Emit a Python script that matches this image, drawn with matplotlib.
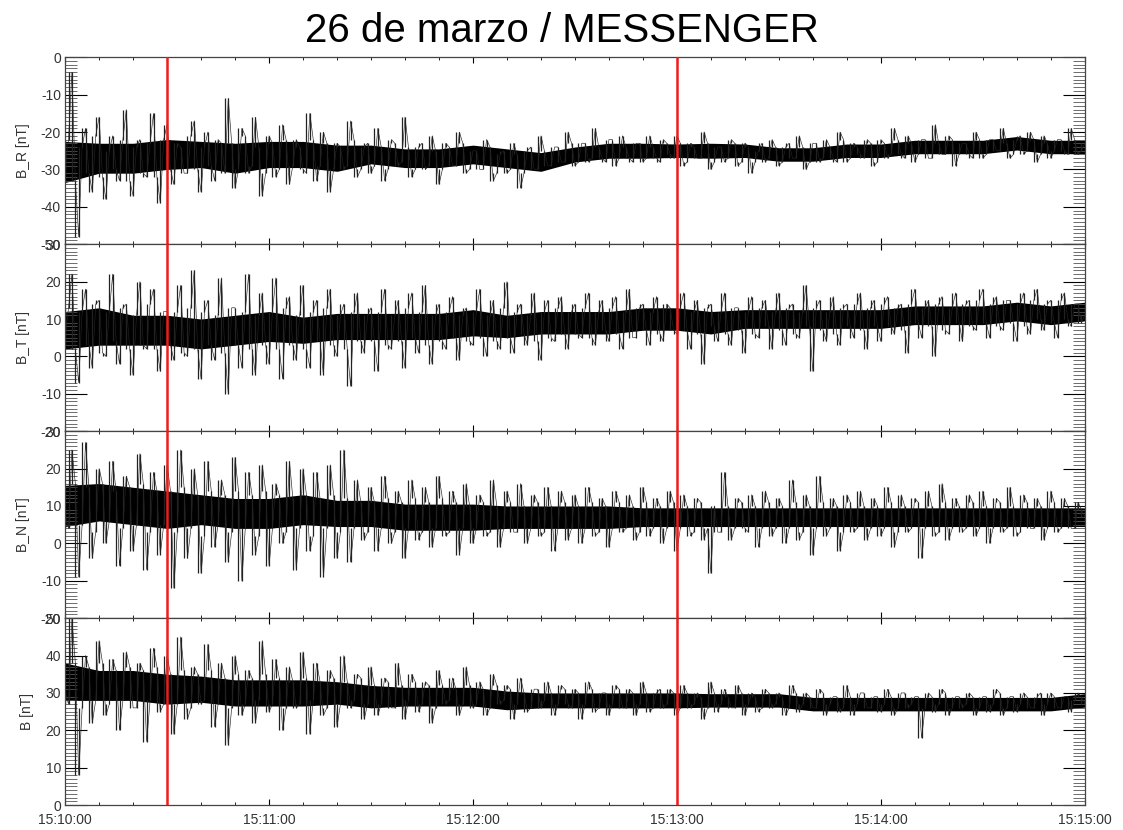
import matplotlib
matplotlib.use("Agg")
import matplotlib.pyplot as plt
import numpy as np
from matplotlib.ticker import MultipleLocator

plt.rcParams["font.family"] = ["Liberation Sans", "DejaVu Sans"]
plt.rcParams["axes.unicode_minus"] = False

# seconds after 15:10:00
t_even = np.arange(0, 301, 2)
t_odd = np.arange(1, 300, 2)
t_band = np.arange(0, 301, 10)

tick_secs = [0, 60, 120, 180, 240, 300]
tick_labels = ["15:10:00", "15:11:00", "15:12:00", "15:13:00", "15:14:00", "15:15:00"]
marks = [30, 180]  # red lines at 15:10:30 and 15:13:00

# B_R: samples at even seconds (spikes) and odd seconds (core)
br = [-30, -4, -48, -19, -36, -16, -38, -21, -33, -14, -37, -22, -32, -15, -39,
      -18, -34, -24, -31, -17, -36, -20, -33, -23, -11, -35, -19, -31, -16, -37,
      -21, -32, -18, -34, -22, -30, -15, -33, -20, -36, -23, -30, -17, -32, -24,
      -31, -19, -33, -22, -29, -16, -32, -24, -30, -21, -34, -23, -29, -20, -31,
      -25, -30, -22, -33, -26, -31, -23, -35, -25, -30, -21, -29, -24, -28, -20,
      -29, -23, -28, -19, -27, -22, -29, -21, -27, -23, -28, -21, -27, -22, -26,
      -21, -29, -23, -27, -20, -30, -24, -28, -22, -29, -23, -31, -25, -28, -22,
      -29, -24, -27, -21, -30, -23, -28, -22, -27, -20, -28, -23, -26, -22, -29,
      -22, -27, -19, -26, -21, -28, -22, -27, -18, -26, -21, -29, -23, -26, -20,
      -27, -22, -25, -19, -27, -22, -26, -20, -28, -21, -27, -22, -25, -19, -26, -23]
br_core = [-22, -33, -24, -31, -21, -32, -25, -30, -22, -33, -24, -31, -23, -32, -22,
           -30, -23, -31, -21, -30, -24, -29, -22, -31, -23, -30, -21, -29, -24, -31,
           -23, -30, -22, -29, -24, -31, -22, -29, -23, -30, -24, -29, -22, -30, -23,
           -29, -24, -30, -23, -28, -24, -30, -23, -29, -25, -30, -24, -29, -23, -30,
           -25, -30, -24, -31, -25, -30, -26, -31, -24, -30, -25, -29, -24, -28, -23,
           -28, -23, -27, -24, -28, -22, -27, -24, -28, -23, -27, -24, -28, -23, -27,
           -23, -28, -24, -27, -23, -28, -24, -27, -23, -28, -24, -28, -23, -27, -24,
           -28, -23, -27, -24, -28, -23, -27, -24, -28, -22, -27, -24, -27, -23, -28,
           -23, -26, -22, -27, -23, -26, -22, -27, -23, -26, -22, -26, -23, -27, -22,
           -26, -22, -25, -23, -26, -21, -25, -22, -26, -23, -25, -22, -26, -22, -25]
br_mid = [-28, -27, -27, -26, -26, -27, -26, -26, -27, -26, -27, -27, -26, -27, -28, -26,
          -25, -25, -25, -25, -25, -26, -26, -25, -25, -24, -24, -24, -23, -24, -24]
br_half = [5.5, 4, 4, 4, 3.5, 4, 3.5, 3.5, 3.5, 2.5, 2.5, 2.5, 2.5, 2.5, 2.5, 2,
           2, 2, 1.8, 2, 1.8, 1.8, 1.8, 1.8, 1.8, 1.8, 1.8, 1.8, 1.8, 1.8, 1.8]

bt = [5, 22, -7, 18, -3, 15, 0, 22, -2, 14, -5, 20, 2, 18, -4,
      12, -1, 19, 0, 23, -6, 15, -1, 21, -10, 13, -3, 22, -5, 17,
      -2, 21, -6, 16, -1, 19, -3, 15, -5, 18, 0, 14, -8, 17, 1,
      13, -4, 18, 2, 15, -3, 17, 1, 19, -2, 14, 2, 16, -1, 13,
      3, 18, 0, 15, 2, 20, 1, 14, 3, 17, -1, 15, 4, 16, 2,
      14, 5, 17, 3, 15, 4, 16, 2, 18, 5, 14, 3, 16, 4, 13,
      6, 17, 2, 15, -2, 14, 4, 17, 3, 13, 1, 16, 5, 15, 2,
      17, 3, 14, 5, 19, -4, 15, 4, 16, 3, 14, 5, 17, 2, 15,
      4, 16, 6, 14, 1, 18, 5, 15, 0, 16, 6, 17, 4, 15, 7,
      18, 5, 16, 7, 15, 4, 17, 6, 18, 7, 15, 5, 17, 8, 14, 11]
bt_core = [13, 2, 12, 3, 14, 1, 12, 4, 13, 2, 11, 3, 14, 2, 12,
           3, 12, 1, 13, 2, 12, 3, 11, 1, 13, 3, 12, 2, 11, 3,
           12, 2, 13, 3, 11, 2, 12, 4, 13, 3, 11, 2, 12, 4, 11,
           4, 12, 3, 11, 4, 13, 5, 12, 3, 11, 4, 12, 5, 11, 4,
           12, 5, 11, 4, 13, 5, 12, 6, 11, 4, 12, 5, 13, 6, 12,
           6, 13, 5, 12, 7, 13, 6, 12, 5, 13, 7, 12, 6, 14, 7,
           13, 7, 12, 6, 13, 8, 12, 6, 13, 7, 12, 6, 13, 8, 12,
           7, 13, 6, 12, 8, 13, 7, 12, 6, 13, 8, 14, 7, 13, 8,
           14, 8, 13, 7, 14, 9, 13, 8, 14, 7, 13, 9, 14, 8, 15,
           9, 14, 8, 15, 9, 14, 8, 15, 10, 14, 9, 15, 10, 14, 9]
bt_mid = [7, 8, 7, 7, 6, 7, 8, 7, 8, 8, 8, 8, 9, 8, 9, 9,
          9, 10, 10, 9, 10, 10, 10, 10, 10, 11, 11, 11, 12, 11, 12]
bt_half = [5, 5, 4, 4, 4, 4, 4, 3.5, 3.5, 3.5, 3.5, 3.5, 3.5, 3, 3, 3,
           3, 3, 3, 3, 2.5, 2.5, 2.5, 2.5, 2.5, 2.5, 2.5, 2.5, 2.5, 2.5, 2.5]

bn = [8, 25, -9, 27, -4, 20, 0, 22, -6, 18, -2, 24, -7, 19, -3,
      21, -12, 25, -4, 20, -8, 22, -1, 17, -5, 23, -10, 19, -3, 21,
      -6, 16, 0, 22, -7, 20, -2, 19, -9, 21, -4, 25, -5, 17, 1,
      15, -2, 18, 0, 14, -4, 17, 1, 15, -1, 18, 2, 14, -3, 16,
      0, 13, 2, 17, -1, 14, 3, 16, 0, 13, 2, 15, -2, 14, 1,
      13, 0, 15, 2, 12, -1, 14, 3, 13, 1, 15, 2, 12, 0, 14,
      -2, 13, 2, 12, 1, -8, 3, 19, 1, 12, 4, 13, -1, 14, 2,
      12, 0, 17, 1, 13, -3, 18, 2, 12, -2, 13, 3, 14, 1, 12,
      2, 15, -1, 13, 3, 12, -4, 14, 2, 16, 1, 12, 3, 13, 2,
      14, 0, 12, 3, 15, 2, 13, 4, 12, 1, 14, 3, 12, 4, 11, 7]
bn_core = [4, 16, 5, 15, 3, 16, 6, 14, 4, 15, 5, 16, 3, 14, 5,
           14, 3, 15, 4, 13, 2, 14, 5, 13, 3, 14, 4, 13, 2, 14,
           4, 13, 3, 12, 4, 13, 2, 12, 4, 13, 3, 12, 4, 11, 3,
           11, 4, 12, 3, 11, 4, 12, 3, 11, 4, 12, 3, 11, 4, 10,
           4, 11, 3, 10, 4, 11, 3, 10, 4, 11, 3, 10, 4, 11, 4,
           10, 4, 11, 3, 10, 4, 11, 4, 10, 3, 11, 4, 10, 4, 11,
           4, 10, 3, 11, 4, 10, 3, 10, 4, 11, 3, 10, 4, 11, 4,
           10, 4, 11, 3, 10, 4, 11, 4, 10, 3, 11, 4, 10, 4, 10,
           4, 11, 3, 10, 4, 11, 4, 10, 3, 11, 4, 10, 4, 11, 4,
           10, 4, 11, 4, 10, 3, 11, 4, 10, 4, 11, 4, 10, 4, 9]
bn_mid = [10, 11, 10, 9, 9, 8, 8, 9, 8, 8, 7, 7, 7, 7, 7, 7,
          7, 7, 7, 7, 7, 7, 7, 7, 7, 7, 7, 7, 7, 7, 7]
bn_half = [5.5, 5, 5, 5, 4, 4, 4, 4, 3.5, 3.5, 3.5, 3.5, 3.5, 3, 3, 3,
           3, 2.5, 2.5, 2.5, 2.5, 2.5, 2.5, 2.5, 2.5, 2.5, 2.5, 2.5, 2.5, 2.5, 2.5]

bm = [30, 50, 8, 40, 22, 44, 24, 39, 20, 41, 26, 38, 17, 42, 25,
      40, 19, 45, 23, 37, 27, 43, 21, 38, 16, 40, 24, 36, 22, 44,
      25, 39, 20, 37, 26, 41, 19, 38, 24, 36, 21, 40, 26, 35, 23,
      37, 24, 34, 26, 38, 23, 35, 25, 33, 22, 36, 27, 34, 24, 37,
      26, 33, 24, 35, 27, 32, 23, 34, 25, 31, 26, 33, 24, 32, 27,
      31, 23, 33, 25, 30, 24, 32, 26, 31, 24, 33, 25, 30, 26, 31,
      24, 32, 26, 30, 23, 33, 25, 31, 26, 32, 24, 30, 25, 31, 26,
      30, 24, 32, 25, 30, 26, 31, 24, 29, 25, 32, 24, 30, 26, 29,
      25, 31, 24, 30, 26, 29, 18, 30, 25, 31, 24, 29, 26, 30, 24,
      29, 25, 31, 24, 29, 25, 30, 26, 29, 24, 30, 26, 29, 25, 30, 27]
bm_core = [27, 38, 26, 37, 28, 38, 27, 36, 28, 37, 26, 36, 28, 37, 27,
           35, 27, 36, 26, 35, 28, 36, 27, 34, 26, 35, 27, 34, 28, 35,
           27, 34, 26, 33, 27, 34, 28, 33, 26, 34, 27, 33, 28, 34, 27,
           32, 27, 33, 26, 32, 28, 33, 27, 32, 26, 32, 28, 31, 27, 32,
           27, 31, 26, 32, 28, 31, 27, 30, 26, 31, 28, 30, 27, 31, 26,
           30, 27, 31, 26, 30, 27, 31, 26, 30, 27, 30, 26, 31, 27, 30,
           26, 30, 27, 29, 26, 30, 27, 29, 26, 30, 27, 29, 26, 30, 27,
           29, 26, 30, 27, 29, 26, 30, 27, 29, 26, 29, 27, 30, 26, 29,
           27, 29, 26, 30, 27, 29, 26, 29, 27, 30, 26, 29, 27, 29, 26,
           29, 27, 30, 26, 29, 27, 29, 26, 30, 27, 29, 26, 29, 28, 29]
bm_mid = [33, 32, 32, 31, 31, 30, 30, 30, 30, 29, 29, 29, 29, 28, 28, 28,
          28, 28, 28, 28, 28, 28, 27, 27, 27, 27, 27, 27, 27, 27, 28]
bm_half = [5, 4, 4, 4, 3.5, 3.5, 3.5, 3.5, 3, 3, 2.5, 2.5, 2.5, 2.5, 2, 2,
           2, 2, 2, 1.8, 1.8, 1.8, 1.8, 1.8, 1.8, 1.8, 1.8, 1.8, 1.8, 1.8, 1.8]

panels = [
    ("B_R [nT]", br, br_core, br_mid, br_half, (-50, 0)),
    ("B_T [nT]", bt, bt_core, bt_mid, bt_half, (-20, 30)),
    ("B_N [nT]", bn, bn_core, bn_mid, bn_half, (-20, 30)),
    ("B [nT]", bm, bm_core, bm_mid, bm_half, (0, 50)),
]

fig, axes = plt.subplots(4, 1, figsize=(11.23, 8.30), dpi=100, sharex=True)
fig.subplots_adjust(left=0.058, right=0.966, top=0.931, bottom=0.030, hspace=0)

for ax, (label, spk, core, mid, half, ylim) in zip(axes, panels):
    # one trace: even-second and odd-second samples in time order
    tt = np.concatenate([t_even, t_odd])
    vv = np.concatenate([spk, core]).astype(float)
    order = np.argsort(tt)
    tt, vv = tt[order], vv[order]
    mid = np.array(mid)
    half = np.array(half)
    ax.fill_between(t_band, mid - half, mid + half, color="black", lw=0)
    # min/max of each pair of neighbouring samples, as vertical strokes
    ax.vlines(tt[:-1], np.minimum(vv[:-1], vv[1:]), np.maximum(vv[:-1], vv[1:]),
              color="#222222", lw=0.9)
    ax.plot(tt, vv, color="#222222", lw=0.45)
    for m in marks:
        ax.axvline(m, color="#ee1c1c", lw=1.8, zorder=5)
    ax.set_xlim(0, 300)
    ax.set_ylim(*ylim)
    ax.yaxis.set_major_locator(MultipleLocator(10))
    ax.yaxis.set_minor_locator(MultipleLocator(1))
    ax.xaxis.set_major_locator(MultipleLocator(60))
    ax.xaxis.set_minor_locator(MultipleLocator(10))
    ax.tick_params(axis="y", which="major", direction="in", length=16, width=0.8,
                   left=True, right=True, labelsize=10, labelcolor="#333333", pad=3)
    ax.tick_params(axis="y", which="minor", direction="in", length=8.5, width=0.6,
                   left=True, right=True, color="#555555")
    ax.tick_params(axis="x", which="major", direction="in", length=4, width=0.8,
                   top=True, bottom=True)
    ax.tick_params(axis="x", which="minor", direction="in", length=2.5, width=0.6,
                   top=True, bottom=True)
    ax.set_ylabel(label, fontsize=10, color="#333333", labelpad=8)
    for s in ax.spines.values():
        s.set_linewidth(0.9)
        s.set_color("#444444")

axes[-1].set_xticks(tick_secs)
axes[-1].set_xticklabels(tick_labels)
axes[-1].tick_params(axis="x", labelsize=10, labelcolor="#333333", pad=6)

fig.suptitle("26 de marzo / MESSENGER", fontsize=29, y=0.985, va="top")

fig.savefig("out.png", dpi=100)
